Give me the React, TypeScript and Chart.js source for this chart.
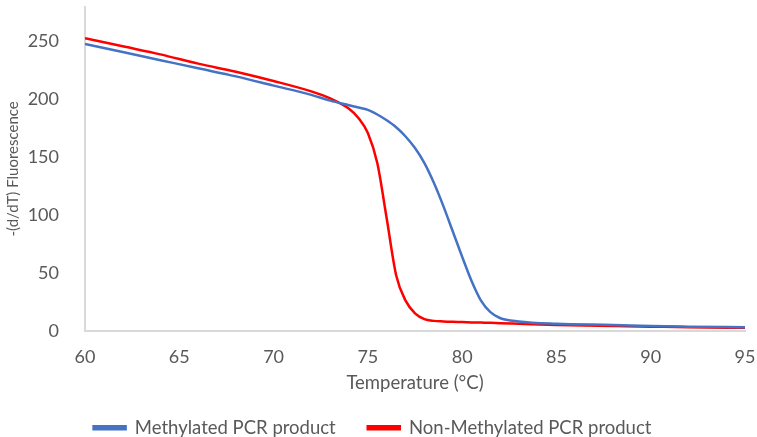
import React, { useEffect, useRef } from "react";
import { Chart, registerables } from "chart.js";

Chart.register(...registerables);

const temps = [60, 62, 64, 66, 68, 70, 72, 73, 74, 74.5, 75, 75.5, 76, 76.5, 77, 77.5, 78, 78.5, 79, 79.5, 80, 80.5, 81, 81.5, 82, 83, 85, 88, 90, 92, 95];
const methylated = [248, 241, 234, 227, 220, 212, 204, 199, 195, 193, 191, 187, 182, 176, 168, 158, 145, 128, 108, 86, 64, 43, 26, 16, 11, 8, 6, 5, 4, 3.5, 3];
const nonMethylated = [253, 246, 239, 231, 224, 216, 207, 201, 192, 184, 171, 145, 97, 48, 26, 15, 10, 8.5, 8, 7.7, 7.5, 7.2, 7, 6.8, 6.5, 6, 5, 4, 3.5, 3, 2.5];
const xTicks = [60, 65, 70, 75, 80, 85, 90, 95];
const yTicks = [0, 50, 100, 150, 200, 250];

const seriesNames = ["Methylated PCR product", "Non-Methylated PCR product"];
const seriesColors = ["#4472C4", "#FF0000"];

export default function App() {
  const ref = useRef<HTMLCanvasElement | null>(null);
  useEffect(() => {
    document.body.style.margin = "0";
    const ctx = ref.current!;
    const font = "Lato";
    const gray = "#595959";
    const chart = new Chart(ctx, {
      type: "line",
      data: {
        datasets: [
          {
            label: seriesNames[0],
            data: temps.map((t, i) => ({ x: t, y: methylated[i] })),
            borderColor: seriesColors[0],
            backgroundColor: seriesColors[0],
            borderWidth: 2.5,
            pointRadius: 0,
            cubicInterpolationMode: "monotone",
          },
          {
            label: seriesNames[1],
            data: temps.map((t, i) => ({ x: t, y: nonMethylated[i] })),
            borderColor: seriesColors[1],
            backgroundColor: seriesColors[1],
            borderWidth: 2.5,
            pointRadius: 0,
            cubicInterpolationMode: "monotone",
          },
        ],
      },
      options: {
        responsive: false,
        animation: false,
        layout: { padding: { left: 0, right: 12, top: 7, bottom: -10 } },
        plugins: {
          tooltip: { enabled: false },
          legend: {
            position: "bottom",
            labels: {
              boxWidth: 32,
              boxHeight: 3,
              padding: 32,
              color: gray,
              font: { family: font, size: 18.5 },
            },
          },
        },
        scales: {
          x: {
            type: "linear",
            min: 60,
            max: 95,
            afterBuildTicks: (s: any) => {
              s.ticks = xTicks.map((v) => ({ value: v }));
            },
            afterFit: (s: any) => {
              s.paddingLeft = 0;
              s.paddingRight = 0;
            },
            grid: { display: false },
            border: { display: true, color: "#D9D9D9", width: 2 },
            ticks: { color: gray, font: { family: font, size: 18 }, padding: 8 },
            title: {
              display: true,
              text: "Temperature (°C)",
              color: gray,
              font: { family: font, size: 18.5 },
              padding: { top: -4, bottom: -8 },
            },
          },
          y: {
            min: 0,
            max: 280,
            afterBuildTicks: (s: any) => {
              s.ticks = yTicks.map((v) => ({ value: v }));
            },
            afterFit: (s: any) => {
              s.width = 85;
              s.paddingTop = 0;
              s.paddingBottom = 0;
            },
            grid: { display: false },
            border: { display: true, color: "#D9D9D9", width: 2 },
            ticks: { color: gray, font: { family: font, size: 18 }, padding: 18 },
            title: {
              display: true,
              text: "-(d/dT) Fluorescence",
              color: gray,
              font: { family: font, size: 15 },
            },
          },
        },
      },
    });
    return () => chart.destroy();
  }, []);
  return <canvas ref={ref} width={757} height={437} style={{ display: "block" }} />;
}
